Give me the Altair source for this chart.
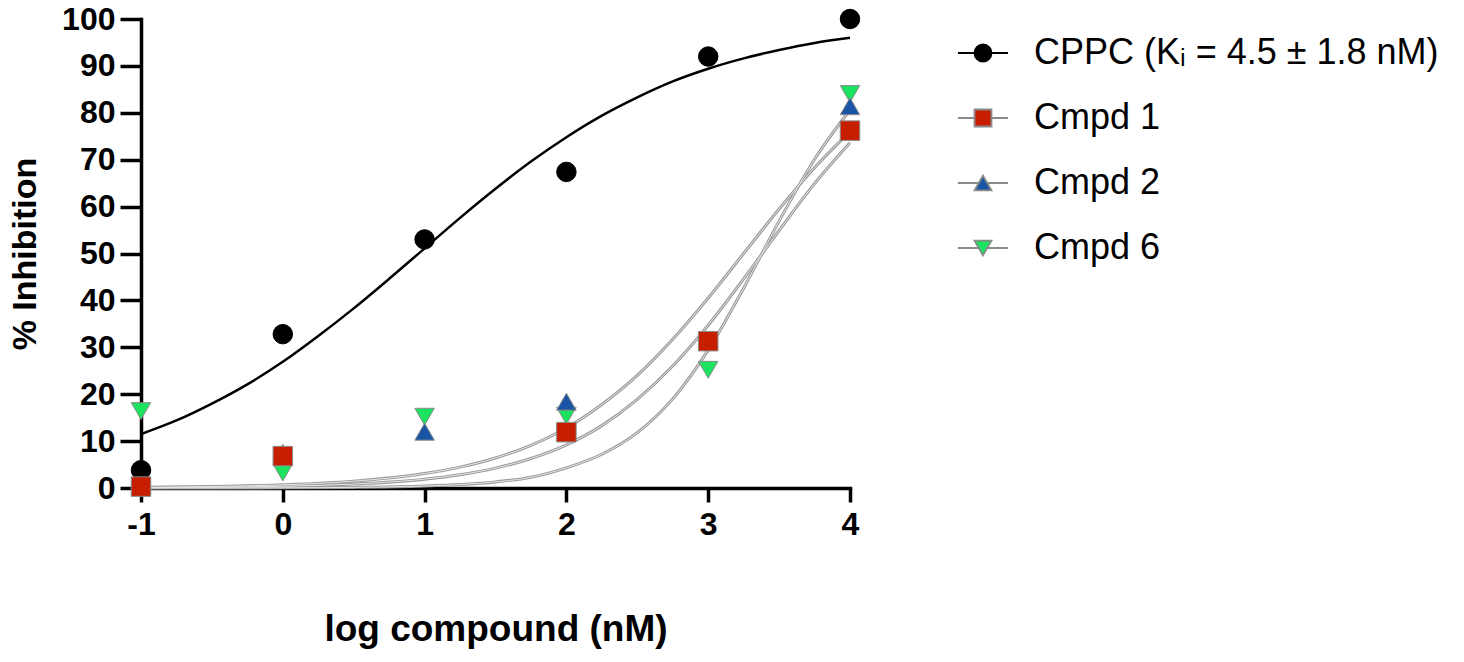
import altair as alt
import pandas as pd

# ---------------- data ----------------
X_DOSE = [-1, 0, 1, 2, 3, 4]
SERIES = ["CPPC (Kᵢ = 4.5 ± 1.8 nM)", "Cmpd 1", "Cmpd 2", "Cmpd 6"]
CPPC = [3.8, 32.8, 53.0, 67.4, 92.0, 100.0]
CMPD1 = [0.3, 6.8, None, 11.9, 31.3, 76.2]
CMPD2 = [0.6, 7.5, 12.0, 18.4, 31.5, 81.4]
CMPD6 = [16.4, 3.3, 15.2, 15.4, 25.2, 84.0]

# fitted curves
X_FIT_CPPC = [-1, -0.75, -0.5, -0.25, 0, 0.25, 0.5, 0.75, 1, 1.25, 1.5,
              1.75, 2, 2.25, 2.5, 2.75, 3, 3.25, 3.5, 3.75, 4]
FIT_CPPC = [11.5, 14.4, 18.0, 22.1, 26.9, 32.4, 38.3, 44.6, 51.1, 57.6, 63.8,
            69.6, 74.8, 79.4, 83.3, 86.7, 89.4, 91.6, 93.4, 94.9, 96.0]
X_FIT_GRAY = [-1, -0.5, 0, 0.5, 1, 1.25, 1.5, 1.75, 2, 2.25, 2.5, 2.75,
              3, 3.25, 3.5, 3.75, 4]
FIT_A = [0.15, 0.32, 0.68, 1.45, 3.07, 4.45, 6.4, 9.1, 12.8, 17.8, 24.0, 31.7,
         40.5, 50.0, 59.5, 68.3, 76.0]
FIT_B = [0.07, 0.16, 0.37, 0.84, 1.89, 2.84, 4.24, 6.3, 9.2, 13.3, 18.9, 26.0,
         34.7, 44.6, 54.9, 64.9, 73.6]
FIT_C = [0.0, 0.01, 0.04, 0.13, 0.42, 0.74, 1.30, 2.29, 4.3, 7.2, 11.8, 19.0,
         29.4, 42.6, 56.9, 70.1, 80.6]

Y_TICKS = [0, 10, 20, 30, 40, 50, 60, 70, 80, 90, 100]

FILLS = ["#000000", "#C81E00", "#1A55A5", "#1BE360"]
STROKES = ["#000000", "#8a8a8a", "#8a8a8a", "#8a8a8a"]
SHAPES = ["circle", "square", "triangle-up", "triangle-down"]
LEGEND_SHAPES = [
    "M-2.95,0H-1M1,0H2.95M1,0A1,1,0,1,1,-1,0A1,1,0,1,1,1,0Z",
    "M-2.95,0H-1M1,0H2.95M-1,-1H1V1H-1Z",
    "M-2.95,0H-0.5M0.5,0H2.95M0,-0.87L1,0.87L-1,0.87Z",
    "M-2.95,0H-0.5M0.5,0H2.95M0,0.87L1,-0.87L-1,-0.87Z",
]

FONT = "Liberation Sans"

# ---------------- tables ----------------
values = {SERIES[0]: CPPC, SERIES[1]: CMPD1, SERIES[2]: CMPD2, SERIES[3]: CMPD6}
draw_order = [SERIES[0], SERIES[3], SERIES[2], SERIES[1]]
rows = []
for s in draw_order:
    for x, y in zip(X_DOSE, values[s]):
        if y is not None:
            rows.append({"series": s, "x": x, "y": y})
pts = pd.DataFrame(rows)

cppc_fit = pd.DataFrame({"x": X_FIT_CPPC, "y": FIT_CPPC})
gray_rows = []
for name, ys in (("a", FIT_A), ("b", FIT_B), ("c", FIT_C)):
    for x, y in zip(X_FIT_GRAY, ys):
        gray_rows.append({"curve": name, "x": x, "y": y})
gray_fit = pd.DataFrame(gray_rows)

xscale = alt.Scale(domain=[-1, 4], nice=False, zero=False)
yscale = alt.Scale(domain=[0, 100], nice=False)

x_axis = alt.Axis(values=X_DOSE, title="log compound (nM)",
                  labelExpr="'' + datum.value", labelFlush=False,
                  tickSize=14, labelPadding=7, titlePadding=71,
                  titleFontSize=37)
y_axis = alt.Axis(values=Y_TICKS, title="% Inhibition", tickSize=21,
                  labelPadding=5, titlePadding=19, titleFontSize=34)

X = alt.X("x:Q", scale=xscale, axis=x_axis)
Y = alt.Y("y:Q", scale=yscale, axis=y_axis)

gray_outer = alt.Chart(gray_fit).mark_line(
    color="#9a9a9a", strokeWidth=3, interpolate="monotone"
).encode(x=X, y=Y, detail="curve:N")
gray_inner = alt.Chart(gray_fit).mark_line(
    color="#e6e6e6", strokeWidth=1, interpolate="monotone"
).encode(x=X, y=Y, detail="curve:N")
black_fit = alt.Chart(cppc_fit).mark_line(
    color="#000000", strokeWidth=2.5, interpolate="monotone"
).encode(x=X, y=Y)

points = alt.Chart(pts).mark_point(
    filled=True, size=380, opacity=1, strokeWidth=1
).encode(
    x=X, y=Y,
    shape=alt.Shape("series:N", scale=alt.Scale(domain=SERIES, range=SHAPES), legend=None),
    fill=alt.Fill("series:N", scale=alt.Scale(domain=SERIES, range=FILLS), legend=None),
    stroke=alt.Stroke("series:N", scale=alt.Scale(domain=SERIES, range=STROKES), legend=None),
)

leg = alt.Legend(title=None)
legend_layer = alt.Chart(pts).transform_filter("false").mark_point(
    filled=True, size=289, opacity=1, strokeWidth=1.8
).encode(
    x=X, y=Y,
    shape=alt.Shape("series:N", scale=alt.Scale(domain=SERIES, range=LEGEND_SHAPES), legend=leg),
    fill=alt.Fill("series:N", scale=alt.Scale(domain=SERIES, range=FILLS), legend=leg),
    stroke=alt.Stroke("series:N", scale=alt.Scale(domain=SERIES, range=STROKES), legend=leg),
)

chart = alt.layer(gray_outer, gray_inner, black_fit, points, legend_layer).resolve_scale(
    shape="independent", fill="independent", stroke="independent"
).properties(
    width=709, height=469,
    autosize=alt.AutoSizeParams(type="none"),
    padding={"left": 133, "top": 11, "right": 606, "bottom": 162},
).configure_view(stroke=None).configure_axis(
    grid=False, domainColor="#000000", domainWidth=3.5, domainCap="square",
    tickColor="#000000", tickWidth=3.5,
    labelFont=FONT, labelFontSize=32, labelFontWeight="bold", labelColor="#000000",
    titleFont=FONT, titleFontSize=36, titleFontWeight="bold", titleColor="#000000",
).configure_legend(
    orient="none", legendX=824, legendY=16, padding=0,
    labelFont=FONT, labelFontSize=36, labelColor="#000000", labelLimit=700,
    labelOffset=33, rowPadding=29, symbolSize=289, symbolStrokeWidth=1.8,
)

chart.save("out.html", embed_options={"renderer": "svg", "actions": False})
